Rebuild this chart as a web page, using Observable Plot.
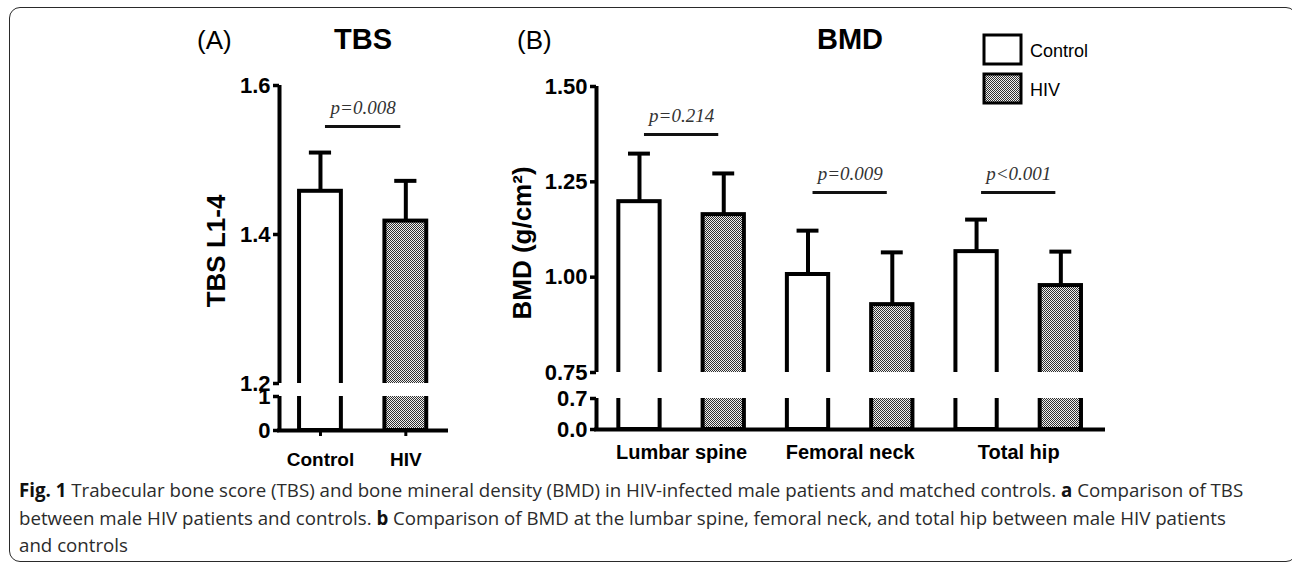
<!DOCTYPE html>
<html>
<head>
<meta charset="utf-8">
<script src="https://cdn.jsdelivr.net/npm/d3@7"></script>
<script src="https://cdn.jsdelivr.net/npm/@observablehq/plot@0.6"></script>
<style>
  html, body { margin: 0; padding: 0; background: #fff; }
  #root { position: relative; width: 1292px; height: 567px; overflow: hidden; font-family: "Liberation Sans", Arial, sans-serif; }
  .box { position: absolute; left: 9px; top: 7px; width: 1288px; height: 555px; border: 1.6px solid #2a2a2a; border-radius: 11px; box-sizing: border-box; }
  .panel { position: absolute; top: 0; }
  .panel svg { overflow: visible; }
  #overlay { position: absolute; left: 0; top: 0; }
  .cap { position: absolute; left: 19px; top: 476px; font-family: "Open Sans", sans-serif; font-size: 18.7px; line-height: 27.5px; color: #2b2b2b; white-space: nowrap; letter-spacing: 0; }
  .cap b { color: #111; }
</style>
</head>
<body>
<svg width="0" height="0" style="position:absolute">
  <defs>
    <pattern id="checker" width="2" height="2" patternUnits="userSpaceOnUse">
      <rect width="2" height="2" fill="#f0f0f0"></rect>
      <rect width="1" height="1" fill="#303030"></rect>
      <rect x="1" y="1" width="1" height="1" fill="#303030"></rect>
    </pattern>
  </defs>
</svg>
<div id="root">
  <div class="box"></div>
  <div id="panelA" class="panel" style="left:180px"></div>
  <div id="panelB" class="panel" style="left:470px"></div>
  <div class="cap"><b>Fig. 1</b> Trabecular bone score (TBS) and bone mineral density (BMD) in HIV-infected male patients and matched controls. <b>a</b> Comparison of TBS<br>between male HIV patients and controls. <b>b</b> Comparison of BMD at the lumbar spine, femoral neck, and total hip between male HIV patients<br>and controls</div>
</div>
<script>
// ---------- data ----------
const groups = ["Control", "HIV"];

// Panel A: TBS L1-4
const tbsMean = [1.458, 1.418];
const tbsSD = [0.052, 0.054];
const tbsP = ["p=0.008"];
const tbsBracketLevel = [1.545];
const tbsTicksUpper = [1.2, 1.4, 1.6];
const tbsTicksLower = [0, 1];
const tbsBreak = [1, 1.2];

// Panel B: BMD
const bmdSites = ["Lumbar spine", "Femoral neck", "Total hip"];
const bmdControlMean = [1.198, 1.007, 1.067];
const bmdControlSD = [0.126, 0.115, 0.084];
const bmdHivMean = [1.164, 0.928, 0.978];
const bmdHivSD = [0.108, 0.137, 0.089];
const bmdP = ["p=0.214", "p=0.009", "p<0.001"];
const bmdBracketLevel = [1.374, 1.222, 1.222];
const bmdTicksUpper = [0.75, 1.00, 1.25, 1.50];
const bmdTicksLower = [0, 0.7];
const bmdBreak = [0.7, 0.75];

// ---------- styling constants ----------
const FONT = "Liberation Sans, Arial, sans-serif";
const HW = 0.245;      // half bar width (x units)
const CAP = 0.13;      // half cap width (x units)
const LW = 4;

// ---------- tables built from the arrays ----------
const barsA = groups.map((g, i) => ({pos: i, group: g, mean: tbsMean[i], sd: tbsSD[i]}));
const bracketsA = tbsP.map((p, k) => ({x1: 0, x2: 1, level: tbsBracketLevel[k], label: p}));

const barsB = bmdSites.flatMap((s, k) => [
  {pos: 2 * k, site: s, group: "Control", mean: bmdControlMean[k], sd: bmdControlSD[k]},
  {pos: 2 * k + 1, site: s, group: "HIV", mean: bmdHivMean[k], sd: bmdHivSD[k]}
]);
const bracketsB = bmdP.map((p, k) => ({x1: 2 * k, x2: 2 * k + 1, level: bmdBracketLevel[k], label: p}));
const siteTicks = bmdSites.map((s, k) => 2 * k + 0.5);

function barMarks(bars) {
  return [
    Plot.rect(bars.filter(d => d.group === "Control"), {
      x1: d => d.pos - HW, x2: d => d.pos + HW, y1: 0, y2: "mean",
      fill: "#fff", stroke: "#000", strokeWidth: LW
    }),
    Plot.rect(bars.filter(d => d.group === "HIV"), {
      x1: d => d.pos - HW, x2: d => d.pos + HW, y1: 0, y2: "mean",
      fill: "url(#checker)", stroke: "#000", strokeWidth: LW
    }),
    Plot.ruleX(bars, {x: "pos", y1: "mean", y2: d => d.mean + d.sd, stroke: "#000", strokeWidth: LW}),
    Plot.ruleY(bars, {y: d => d.mean + d.sd, x1: d => d.pos - CAP, x2: d => d.pos + CAP, stroke: "#000", strokeWidth: LW})
  ];
}

function bracketMarks(brackets) {
  return [
    Plot.ruleY(brackets, {y: "level", x1: "x1", x2: "x2", insetLeft: 5, insetRight: 5, stroke: "#111", strokeWidth: 3}),
    Plot.text(brackets, {
      x: d => (d.x1 + d.x2) / 2, y: "level", text: "label", dy: -19,
      fontFamily: "Liberation Serif, Times New Roman, serif", fontStyle: "italic", fontSize: 19, fill: "#333"
    })
  ];
}

function axisMarks(upper, lower, fmtUpper, fmtLower, brk) {
  const common = {tickSize: 6, tickPadding: 3, fontSize: 22, fontWeight: "bold", strokeWidth: 3.5, label: null, fill: "#000", stroke: "#000"};
  return [
    Plot.rect([brk], {y1: d => d[0], y2: d => d[1], fill: "#fff", insetLeft: -10, insetRight: -10}),
    Plot.axisY({...common, ticks: upper, tickFormat: fmtUpper}),
    Plot.axisY({...common, ticks: lower, tickFormat: fmtLower})
  ];
}

// ---------- Panel A ----------
const xDomA = [-0.48, 1.5];
const yDomA = [0, 1, 1.2, 1.6];
const plotA = Plot.plot({
  width: 290, height: 480,
  marginLeft: 99, marginRight: 22, marginTop: 85, marginBottom: 50,
  style: {fontFamily: FONT, color: "#000", background: "transparent"},
  x: {type: "linear", domain: xDomA},
  y: {type: "linear", domain: yDomA, range: [430, 396, 383, 85]},
  marks: [
    ...barMarks(barsA),
    Plot.ruleX([xDomA[0]], {y1: yDomA[0], y2: yDomA[yDomA.length - 1], stroke: "#000", strokeWidth: LW}),
    Plot.ruleY([0], {stroke: "#000", strokeWidth: LW, insetLeft: -2}),
    ...axisMarks(tbsTicksUpper, tbsTicksLower, d3.format(".1f"), d3.format("d"), tbsBreak),
    Plot.axisX({ticks: [0, 1], tickFormat: (d, i) => groups[i], tickSize: 6, tickPadding: 16,
      fontSize: 19, fontWeight: "bold", strokeWidth: 3, label: null, fill: "#000", stroke: "#000"}),
    ...bracketMarks(bracketsA),
    Plot.text(["TBS L1-4"], {frameAnchor: "left", textAnchor: "middle", rotate: -90, dx: -63, dy: -7, fontSize: 26, fontWeight: "bold", fill: "#000"})
  ]
});
document.getElementById("panelA").append(plotA);

// ---------- Panel B ----------
const xDomB = [-0.51, 5.53];
const yDomB = [0, 0.7, 0.75, 1.5];
const plotB = Plot.plot({
  width: 650, height: 480,
  marginLeft: 126, marginRight: 15, marginTop: 86, marginBottom: 51,
  style: {fontFamily: FONT, color: "#000", background: "transparent"},
  x: {type: "linear", domain: xDomB},
  y: {type: "linear", domain: yDomB, range: [429, 398, 372, 86]},
  marks: [
    ...barMarks(barsB),
    Plot.ruleX([xDomB[0]], {y1: yDomB[0], y2: yDomB[yDomB.length - 1], stroke: "#000", strokeWidth: LW}),
    Plot.ruleY([0], {stroke: "#000", strokeWidth: LW, insetLeft: -2}),
    ...axisMarks(bmdTicksUpper, bmdTicksLower, d3.format(".2f"), d3.format(".1f"), bmdBreak),
    Plot.axisX({ticks: siteTicks, tickFormat: (d, i) => bmdSites[i], tickSize: 0, tickPadding: 15,
      fontSize: 20, fontWeight: "bold", label: null, fill: "#000"}),
    ...bracketMarks(bracketsB),
    Plot.text(["BMD (g/cm²)"], {frameAnchor: "left", textAnchor: "middle", rotate: -90, dx: -74, dy: -15, fontSize: 26, fontWeight: "bold", fill: "#000"})
  ]
});
document.getElementById("panelB").append(plotB);

// ---------- titles and legend ----------
const ov = d3.select("#root").append("svg").attr("id", "overlay")
  .attr("width", 1292).attr("height", 567).style("pointer-events", "none")
  .style("font-family", FONT);
const titles = [
  {text: "(A)", x: 197, anchor: "start", size: 26, weight: "normal"},
  {text: "TBS", x: 363, anchor: "middle", size: 29, weight: "bold"},
  {text: "(B)", x: 517, anchor: "start", size: 26, weight: "normal"},
  {text: "BMD", x: 850, anchor: "middle", size: 29, weight: "bold"}
];
ov.selectAll("text.title").data(titles).join("text").attr("class", "title")
  .attr("x", d => d.x).attr("y", 49).attr("text-anchor", d => d.anchor)
  .attr("font-size", d => d.size).attr("font-weight", d => d.weight).text(d => d.text);

const legendItems = [
  {label: groups[0], fill: "#fff", y: 35},
  {label: groups[1], fill: "url(#checker)", y: 74}
];
const lg = ov.selectAll("g.leg").data(legendItems).join("g").attr("class", "leg");
lg.append("rect").attr("x", 984).attr("y", d => d.y).attr("width", 37).attr("height", 29)
  .attr("fill", d => d.fill).attr("stroke", "#000").attr("stroke-width", 3);
lg.append("text").attr("x", 1030).attr("y", d => d.y + 22).attr("font-size", 18).text(d => d.label);
</script>
</body>
</html>
